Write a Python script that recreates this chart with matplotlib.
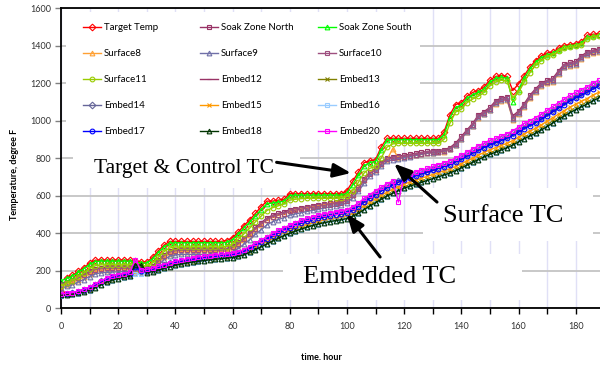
import matplotlib
matplotlib.use('Agg')
import matplotlib.pyplot as plt
from matplotlib.ticker import MultipleLocator
from matplotlib.patches import Rectangle

plt.rcParams['font.family'] = ['Lato', 'DejaVu Sans']

# thermocouple log, one reading every 2 hours
hours = list(range(0, 189, 2))

target_temp = [85, 160, 175, 195, 215, 240, 255, 255, 255, 255,
               255, 255, 255, 250, 245, 245, 270, 305, 335, 355,
               355, 355, 355, 355, 355, 355, 355, 355, 355, 360,
               375, 405, 440, 470, 505, 540, 570, 570, 575, 580,
               610, 610, 610, 610, 610, 610, 610, 610, 610, 610,
               625, 675, 725, 775, 785, 790, 860, 905, 905, 905,
               905, 905, 905, 905, 905, 905, 905, 940, 1030, 1085,
               1095, 1130, 1150, 1160, 1180, 1215, 1235, 1240, 1235, 1160,
               1195, 1240, 1285, 1320, 1345, 1360, 1365, 1385, 1400, 1405,
               1410, 1420, 1455, 1460, 1462]
soak_north = [130, 140, 150, 165, 180, 195, 210, 215, 218, 218,
              218, 218, 218, 215, 212, 212, 225, 255, 285, 305,
              312, 315, 315, 315, 315, 315, 315, 315, 315, 318,
              330, 350, 375, 400, 430, 455, 480, 495, 505, 512,
              525, 530, 535, 540, 545, 550, 555, 560, 565, 570,
              580, 610, 645, 690, 725, 745, 775, 800, 805, 810,
              815, 820, 825, 830, 835, 838, 840, 845, 855, 880,
              915, 950, 985, 1030, 1048, 1070, 1105, 1120, 1125, 1025,
              1050, 1090, 1135, 1170, 1200, 1215, 1225, 1265, 1300, 1310,
              1315, 1345, 1365, 1375, 1382]
soak_south = [145, 158, 170, 190, 210, 233, 248, 250, 250, 250,
              250, 250, 250, 246, 240, 240, 262, 296, 326, 346,
              348, 348, 348, 348, 348, 348, 348, 348, 348, 350,
              365, 395, 428, 458, 492, 525, 556, 560, 565, 570,
              600, 602, 602, 602, 602, 602, 602, 602, 602, 602,
              612, 658, 708, 758, 776, 782, 842, 895, 898, 898,
              898, 898, 898, 898, 898, 898, 898, 925, 1015, 1068,
              1083, 1118, 1138, 1150, 1168, 1203, 1225, 1230, 1225, 1100,
              1165, 1225, 1275, 1310, 1335, 1350, 1358, 1378, 1393, 1398,
              1403, 1413, 1443, 1450, 1455]
surface8 = [115, 125, 138, 152, 166, 182, 196, 202, 205, 206,
            206, 206, 206, 203, 200, 200, 212, 240, 270, 290,
            297, 300, 300, 300, 300, 300, 300, 300, 300, 303,
            315, 336, 362, 388, 418, 444, 470, 486, 496, 503,
            515, 521, 527, 533, 539, 545, 551, 556, 561, 566,
            575, 605, 640, 684, 718, 738, 768, 790, 850, 800,
            805, 810, 815, 820, 825, 828, 830, 834, 846, 868,
            902, 940, 973, 1016, 1034, 1055, 1090, 1105, 1110, 1005,
            1033, 1073, 1118, 1153, 1183, 1198, 1208, 1248, 1283, 1293,
            1298, 1328, 1348, 1358, 1365]
surface9 = [105, 115, 125, 138, 152, 168, 182, 188, 190, 192,
            193, 194, 195, 193, 190, 190, 200, 228, 258, 276,
            283, 286, 286, 286, 286, 286, 286, 286, 286, 290,
            300, 318, 340, 365, 393, 418, 443, 460, 472, 482,
            495, 502, 508, 515, 521, 527, 533, 539, 545, 551,
            560, 588, 622, 665, 702, 725, 755, 782, 790, 796,
            802, 808, 814, 820, 825, 829, 832, 836, 848, 868,
            903, 940, 972, 1018, 1036, 1058, 1093, 1108, 1113, 1010,
            1038, 1078, 1123, 1158, 1188, 1203, 1213, 1253, 1288, 1298,
            1303, 1333, 1353, 1363, 1370]
surface10 = [125, 135, 145, 160, 175, 190, 205, 210, 212, 212,
             212, 212, 212, 209, 206, 206, 218, 248, 278, 298,
             305, 308, 308, 308, 308, 308, 308, 308, 308, 311,
             323, 343, 368, 393, 422, 447, 472, 487, 497, 504,
             517, 522, 527, 532, 537, 542, 547, 552, 557, 562,
             572, 602, 637, 682, 717, 738, 768, 793, 798, 803,
             808, 813, 818, 823, 828, 831, 833, 838, 850, 873,
             908, 945, 978, 1023, 1041, 1063, 1098, 1113, 1118, 1015,
             1043, 1083, 1128, 1163, 1193, 1208, 1218, 1258, 1293, 1303,
             1308, 1338, 1358, 1368, 1375]
surface11 = [120, 132, 146, 166, 186, 210, 225, 230, 230, 230,
             230, 230, 230, 227, 224, 224, 240, 270, 300, 320,
             325, 325, 325, 325, 325, 325, 325, 325, 325, 328,
             340, 366, 396, 426, 460, 490, 520, 535, 545, 555,
             575, 580, 583, 585, 585, 585, 585, 585, 585, 587,
             595, 625, 670, 720, 745, 755, 800, 858, 875, 878,
             878, 878, 878, 878, 878, 878, 878, 900, 985, 1045,
             1060, 1095, 1115, 1130, 1150, 1185, 1205, 1215, 1210, 1120,
             1150, 1205, 1255, 1295, 1320, 1340, 1350, 1370, 1385, 1390,
             1395, 1405, 1435, 1445, 1450]
embed12 = [71, 74, 78, 85, 95, 106, 121, 138, 152, 162,
           170, 176, 182, 193, 195, 199, 205, 214, 224, 234,
           242, 248, 254, 259, 263, 267, 271, 274, 277, 280,
           283, 290, 301, 316, 333, 350, 367, 385, 401, 415,
           428, 442, 454, 464, 473, 481, 488, 494, 499, 504,
           510, 525, 544, 568, 588, 608, 627, 644, 660, 675,
           687, 698, 708, 718, 728, 738, 748, 758, 768, 783,
           798, 814, 830, 846, 861, 876, 887, 899, 911, 926,
           945, 964, 980, 995, 1014, 1033, 1053, 1073, 1092, 1112,
           1128, 1143, 1158, 1177, 1192]
embed13 = [69, 71, 74, 80, 88, 98, 111, 127, 141, 152,
           160, 166, 172, 185, 188, 191, 196, 204, 213, 222,
           230, 236, 242, 247, 251, 255, 259, 262, 265, 268,
           271, 278, 287, 300, 315, 330, 345, 361, 376, 390,
           403, 415, 426, 436, 445, 453, 460, 466, 471, 476,
           482, 495, 512, 532, 551, 570, 588, 605, 620, 634,
           647, 658, 668, 678, 688, 698, 708, 718, 728, 741,
           755, 770, 785, 800, 814, 828, 839, 851, 863, 877,
           894, 912, 927, 942, 960, 978, 997, 1016, 1034, 1052,
           1068, 1083, 1098, 1115, 1130]
embed14 = [73, 76, 80, 88, 98, 109, 125, 142, 156, 166,
           174, 180, 186, 197, 199, 203, 209, 218, 228, 238,
           246, 252, 258, 263, 267, 271, 275, 278, 281, 284,
           287, 294, 306, 321, 338, 355, 372, 390, 406, 420,
           433, 447, 459, 469, 478, 486, 493, 499, 504, 509,
           515, 530, 549, 573, 593, 613, 632, 649, 665, 680,
           692, 703, 713, 723, 733, 743, 753, 763, 773, 788,
           803, 819, 835, 851, 866, 881, 892, 904, 916, 931,
           950, 969, 985, 1000, 1019, 1038, 1058, 1078, 1097, 1117,
           1133, 1148, 1163, 1182, 1197]
embed15 = [70, 72, 76, 82, 91, 101, 115, 131, 145, 156,
           164, 170, 176, 189, 191, 194, 200, 208, 218, 227,
           235, 241, 247, 252, 256, 260, 264, 267, 270, 273,
           276, 283, 293, 307, 322, 338, 354, 370, 386, 400,
           412, 425, 436, 446, 455, 463, 470, 476, 481, 486,
           492, 505, 523, 545, 564, 583, 601, 618, 634, 648,
           661, 672, 682, 692, 702, 712, 722, 732, 742, 755,
           770, 785, 800, 816, 830, 844, 855, 867, 879, 893,
           911, 929, 944, 959, 977, 996, 1015, 1034, 1053, 1071,
           1087, 1102, 1117, 1135, 1150]
embed16 = [65, 67, 70, 75, 83, 93, 106, 121, 135, 146,
           154, 161, 167, 180, 183, 186, 191, 199, 208, 217,
           225, 231, 237, 242, 246, 250, 254, 257, 260, 263,
           266, 272, 281, 294, 308, 323, 338, 354, 369, 383,
           395, 407, 418, 428, 437, 445, 452, 458, 463, 468,
           474, 486, 502, 522, 541, 559, 577, 594, 609, 623,
           636, 647, 657, 667, 677, 687, 697, 707, 717, 730,
           744, 759, 774, 789, 803, 817, 828, 840, 852, 866,
           883, 900, 915, 929, 947, 965, 984, 1003, 1021, 1039,
           1055, 1070, 1085, 1102, 1117]
embed17 = [72, 75, 79, 86, 96, 107, 122, 139, 153, 163,
           171, 177, 183, 220, 197, 200, 206, 215, 225, 235,
           243, 249, 255, 260, 264, 268, 272, 275, 278, 281,
           284, 291, 302, 317, 333, 350, 367, 384, 400, 414,
           427, 440, 452, 462, 471, 479, 486, 492, 497, 502,
           508, 522, 541, 565, 585, 604, 623, 640, 656, 670,
           683, 694, 704, 714, 724, 734, 744, 754, 764, 778,
           793, 809, 825, 841, 856, 870, 881, 893, 905, 920,
           938, 957, 973, 988, 1007, 1026, 1046, 1066, 1085, 1104,
           1120, 1135, 1150, 1168, 1183]
embed18 = [68, 70, 73, 78, 86, 96, 109, 124, 138, 149,
           157, 164, 170, 232, 228, 189, 194, 202, 211, 220,
           228, 234, 240, 245, 249, 253, 257, 260, 263, 266,
           269, 275, 284, 297, 311, 326, 341, 357, 372, 386,
           398, 410, 421, 431, 440, 448, 455, 461, 466, 471,
           477, 489, 505, 525, 544, 562, 580, 597, 612, 626,
           639, 650, 660, 670, 680, 690, 700, 710, 720, 733,
           747, 762, 777, 792, 806, 820, 831, 843, 855, 869,
           886, 903, 918, 932, 950, 968, 987, 1006, 1024, 1042,
           1058, 1073, 1088, 1105, 1120]
embed20 = [75, 78, 82, 90, 100, 112, 128, 145, 160, 170,
           178, 184, 190, 258, 202, 206, 212, 222, 232, 242,
           250, 256, 262, 268, 272, 276, 280, 283, 286, 289,
           292, 300, 312, 328, 345, 362, 380, 398, 414, 428,
           442, 456, 468, 478, 487, 495, 502, 508, 513, 518,
           525, 540, 560, 585, 605, 625, 645, 662, 678, 565,
           705, 715, 725, 735, 745, 755, 765, 775, 785, 800,
           815, 832, 848, 865, 880, 895, 905, 918, 930, 945,
           965, 985, 1000, 1015, 1035, 1055, 1075, 1095, 1115, 1135,
           1150, 1165, 1180, 1200, 1215]

# name, values, colour, marker
series = [
    ('Target Temp', target_temp, '#FF0000', 'D'),
    ('Soak Zone North', soak_north, '#993366', 's'),
    ('Soak Zone South', soak_south, '#00FF00', '^'),
    ('Surface8', surface8, '#FFA033', '^'),
    ('Surface9', surface9, '#7070A8', '^'),
    ('Surface10', surface10, '#9E4F7F', 's'),
    ('Surface11', surface11, '#99CC00', 'o'),
    ('Embed12', embed12, '#993366', '_'),
    ('Embed13', embed13, '#808000', 'x'),
    ('Embed14', embed14, '#666699', 'D'),
    ('Embed15', embed15, '#FF9900', 'x'),
    ('Embed16', embed16, '#99CCFF', 's'),
    ('Embed17', embed17, '#0000FF', 'o'),
    ('Embed18', embed18, '#003300', '^'),
    ('Embed20', embed20, '#FF00FF', 's'),
]

fig = plt.figure(figsize=(6, 3.67), dpi=100)
ax = fig.add_axes([61/600, 59/367, 539/600, 300/367])

lines = []
for name, vals, col, mk in series:
    ln, = ax.plot(hours, vals, color=col, lw=1, marker=mk, ms=3.4,
                  mfc='none', mew=0.8, label=name, zorder=3)
    lines.append(ln)

ax.set_xlim(0, 188.5)
ax.set_ylim(0, 1600)
ax.xaxis.set_major_locator(MultipleLocator(20))
ax.xaxis.set_minor_locator(MultipleLocator(10))
ax.yaxis.set_major_locator(MultipleLocator(200))

# grid: pale vertical lines every 10 h, grey horizontals every 200 F
ax.set_axisbelow(True)
ax.grid(which='both', axis='x', color='#E0E0F6', lw=1)
ax.grid(which='major', axis='y', color='#C4C4C4', lw=1.3)

ax.spines['right'].set_visible(False)
for s in ['left', 'bottom', 'top']:
    ax.spines[s].set_color('black')
    ax.spines[s].set_linewidth(1.3)

ax.tick_params(axis='x', which='both', direction='out', length=4, width=1,
               labelsize=6.5, pad=6, labelcolor='#333333')
ax.tick_params(axis='y', direction='out', length=4, width=1, color='#808080',
               labelsize=6.5, pad=3, labelcolor='#333333')


def white_panel(x0, y0, x1, y1):
    # blank area given in figure pixels, covers the grid only
    ax.add_patch(Rectangle(((x0 - 61) / 539, (308 - y1) / 300),
                           (x1 - x0) / 539, (y1 - y0) / 300,
                           transform=ax.transAxes, facecolor='white',
                           edgecolor='none', zorder=1))


white_panel(66, 12, 420, 140)    # legend
white_panel(73, 140, 300, 188)   # Target & Control TC
white_panel(423, 188, 593, 241)  # Surface TC
white_panel(283, 254, 522, 300)  # Embedded TC

# legend as three columns
for i, x in enumerate([83, 200, 318]):
    hs = lines[i::3]
    fig.legend(handles=hs, labels=[h.get_label() for h in hs],
               loc='upper left', bbox_to_anchor=(x/600, 1 - 23/367),
               frameon=False, fontsize=7, handlelength=1.8,
               handletextpad=0.35, labelspacing=1.75, borderpad=0,
               borderaxespad=0)

# callouts
ax.text(11.5, 718, 'Target & Control TC', family='Liberation Serif',
        fontsize=15.5, ha='left', va='baseline', zorder=4)
ax.text(133.6, 460, 'Surface TC', family='Liberation Serif',
        fontsize=19, ha='left', va='baseline', zorder=4)
ax.text(84.6, 133, 'Embedded TC', family='Liberation Serif',
        fontsize=19, ha='left', va='baseline', zorder=4)

arrow = dict(arrowstyle='-|>,head_length=0.7,head_width=0.28', lw=2.2,
             color='black', mutation_scale=15, shrinkA=0, shrinkB=0)
ax.annotate('', xy=(101.4, 720), xytext=(75.4, 777), arrowprops=arrow, zorder=5)
ax.annotate('', xy=(116.5, 770), xytext=(131.5, 565), arrowprops=arrow, zorder=5)
ax.annotate('', xy=(100.0, 501), xytext=(111.6, 272), arrowprops=arrow, zorder=5)

fig.text(321/600, 1 - 358/367, 'time. hour', ha='center', va='center',
         fontsize=6.5, weight='bold')
fig.text(15/600, 1 - 174.5/367, 'Temperature, degree F', rotation=90,
         ha='center', va='center', fontsize=6.5, weight='bold')

fig.savefig('out.png', dpi=100)
